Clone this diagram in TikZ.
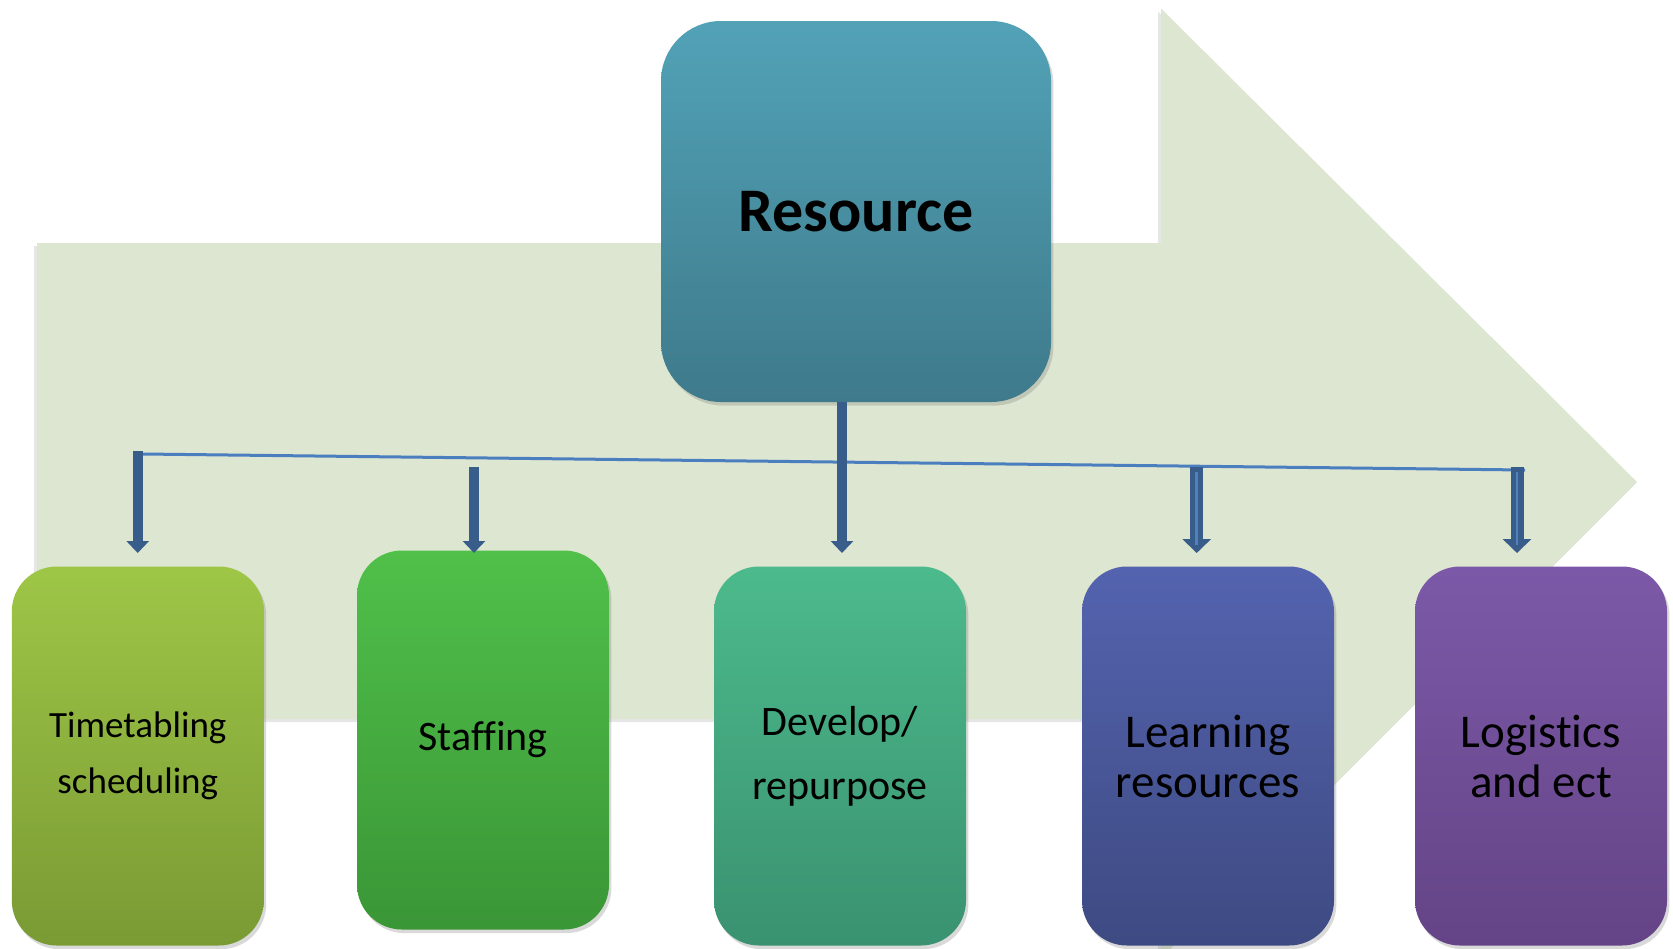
\documentclass[tikz,border=0pt]{standalone}
\usepackage{fontspec}
\setmainfont{Carlito}[Ligatures=CommonOff]
\usetikzlibrary{arrows.meta,shadows}
\definecolor{bgarrow}{HTML}{DDE6D0}
\definecolor{linkblue}{HTML}{4A7EBF}
\definecolor{arrowblue}{HTML}{385D8A}
\definecolor{stripeblue}{HTML}{4F81BD}
\begin{document}
\begin{tikzpicture}[x=0.5pt,y=-0.5pt,
  box/.style={rounded corners=22.5pt, minimum width=126pt, minimum height=189.5pt,
    inner sep=0pt, align=center, text=black,
    drop shadow={shadow xshift=1.2pt, shadow yshift=-1.8pt, opacity=0.3}},
  blockarrow/.style={draw=arrowblue, line width=5pt, -{Triangle[width=11pt,length=6pt]}},
  widearrow/.style={draw=arrowblue, line width=6.5pt, -{Triangle[width=14pt,length=7pt]}},
  stripe/.style={draw=stripeblue, line width=1.4pt},
  thinline/.style={draw=linkblue, line width=1.5pt}]
\useasboundingbox (0,0) rectangle (1673,948);
% big background arrow
\fill[bgarrow, drop shadow={shadow xshift=-1.5pt, shadow yshift=-1.5pt, opacity=0.2}]
  (37,243) -- (1161,243) -- (1161,8.5) -- (1637,482) -- (1161,958) -- (1161,719) -- (37,719) -- cycle;
% thin connector line
\coordinate (la) at (142.7,454);
\coordinate (lb) at (1525,470);
\draw[thinline] (la) -- (lb);
% top box
\node[box, rounded corners=30pt, minimum width=195pt, minimum height=190.5pt,
  top color={rgb,255:red,82;green,162;blue,183}, bottom color={rgb,255:red,62;green,122;blue,139},
  font=\fontsize{31}{37}\selectfont\bfseries] (resource) at (856,211.5) {Resource};
% bottom boxes
\node[box, top color={rgb,255:red,158;green,198;blue,70}, bottom color={rgb,255:red,122;green,154;blue,52},
  font=\fontsize{18.5}{28.3}\selectfont] (time) at (137.8,756) {Timetabling\\scheduling};
\node[box, top color={rgb,255:red,80;green,192;blue,74}, bottom color={rgb,255:red,58;green,150;blue,54},
  font=\fontsize{21}{25}\selectfont] (staff) at (483,740) {Staffing};
\node[box, top color={rgb,255:red,76;green,186;blue,140}, bottom color={rgb,255:red,58;green,146;blue,112},
  font=\fontsize{21}{32.2}\selectfont] (dev) at (840,756) {Develop/\\repurpose};
\node[box, top color={rgb,255:red,84;green,99;blue,175}, bottom color={rgb,255:red,62;green,74;blue,130},
  font=\fontsize{23.5}{25}\selectfont] (learn) at (1208,756) {Learning\\resources};
\node[box, top color={rgb,255:red,124;green,89;blue,168}, bottom color={rgb,255:red,100;green,68;blue,134},
  font=\fontsize{23.5}{25}\selectfont] (logi) at (1541,756) {Logistics\\and ect};
% arrows
\coordinate (tipline) at (0,553);
\coordinate (s1) at (137.7,451);
\coordinate (s2) at (474,467);
\coordinate (s3) at (842,0);
\coordinate (s4) at (1196.7,467);
\coordinate (s5) at (1517,467);
\draw[blockarrow] (s1) -- (s1 |- tipline);
\draw[blockarrow] (s2) -- (s2 |- tipline);
\draw[blockarrow] (s3 |- resource.south) -- (s3 |- tipline);
\draw[widearrow] (s4) -- (s4 |- tipline);
\draw[widearrow] (s5) -- (s5 |- tipline);
\coordinate (e4) at (1196.7,545);
\coordinate (e5) at (1517,545);
\draw[stripe] (1196.7,472) -- (e4);
\draw[stripe] (1517,472) -- (e5);
\end{tikzpicture}
\end{document}
